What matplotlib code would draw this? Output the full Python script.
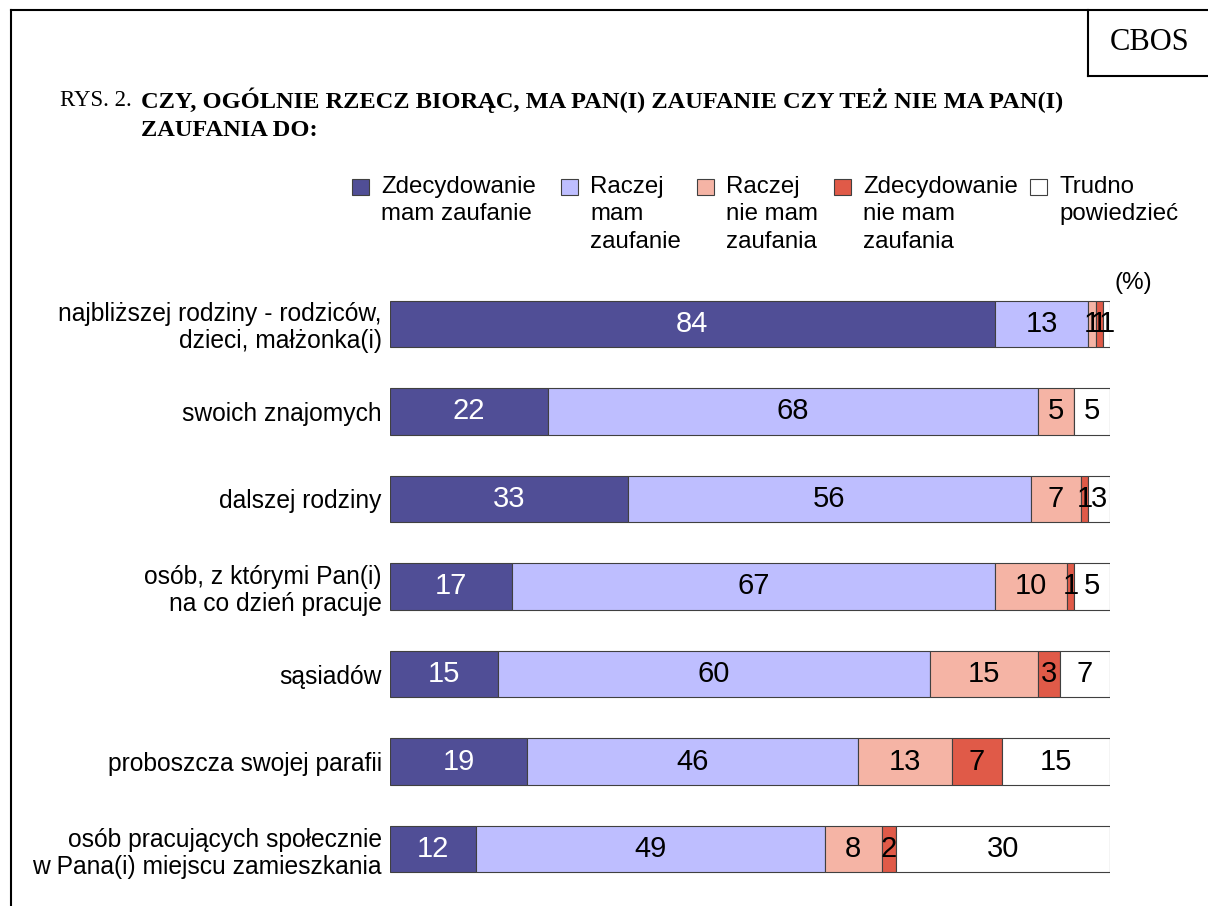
import matplotlib.pyplot as plt
from matplotlib.lines import Line2D
from matplotlib.patches import Rectangle
import numpy as np

W, H = 1208, 906

categories = ["najbliższej rodziny - rodziców,\ndzieci, małżonka(i)",
              "swoich znajomych",
              "dalszej rodziny",
              "osób, z którymi Pan(i)\nna co dzień pracuje",
              "sąsiadów",
              "proboszcza swojej parafii",
              "osób pracujących społecznie\nw Pana(i) miejscu zamieszkania"]

series = ["Zdecydowanie\nmam zaufanie", "Raczej\nmam\nzaufanie", "Raczej\nnie mam\nzaufania",
          "Zdecydowanie\nnie mam\nzaufania", "Trudno\npowiedzieć"]
colors = ["#504E96", "#BEBEFF", "#F5B4A5", "#E05A48", "#FFFFFF"]

zdec_mam = [84, 22, 33, 17, 15, 19, 12]
raczej_mam = [13, 68, 56, 67, 60, 46, 49]
raczej_nie = [1, 5, 7, 10, 15, 13, 8]
zdec_nie = [1, 0, 1, 1, 3, 7, 2]
trudno = [1, 5, 3, 5, 7, 15, 30]

values = np.array([zdec_mam, raczej_mam, raczej_nie, zdec_nie, trudno], dtype=float)

plt.rcParams['font.family'] = ['Liberation Sans', 'DejaVu Sans']

def fx(px):
    return px / W

def fy(py):
    return 1 - py / H

fig = plt.figure(figsize=(W / 100, H / 100), dpi=100)
ax = fig.add_axes([fx(390), fy(893), fx(1110) - fx(390), fy(280) - fy(893)])

y = np.arange(len(categories))
totals = values.sum(axis=0)
shares = values / totals * 100
left = np.zeros(len(categories))
for i in range(len(series)):
    ax.barh(y, shares[i], left=left, height=0.53, color=colors[i],
            edgecolor='#404040', linewidth=0.8)
    for j in range(len(categories)):
        if values[i, j] > 0:
            ax.text(left[j] + shares[i, j] / 2, y[j], "%d" % values[i, j],
                    ha='center', va='center', fontsize=21,
                    color='white' if i == 0 else 'black')
    left += shares[i]

ax.set_xlim(0, 100)
ax.set_ylim(len(categories) - 0.5, -0.5)
ax.set_yticks(y)
ax.set_yticklabels(categories, fontsize=17.7, linespacing=1.15)
ax.tick_params(axis='y', length=0, pad=6)
ax.set_xticks([])
for s in ax.spines.values():
    s.set_visible(False)

# legend
leg_marker_x = [352, 561, 697, 834, 1030]
for i, lab in enumerate(series):
    fig.patches.append(Rectangle((fx(leg_marker_x[i]), fy(195)), 17 / W, 16 / H,
                                 transform=fig.transFigure, facecolor=colors[i],
                                 edgecolor='#404040', linewidth=0.8))
    fig.text(fx(leg_marker_x[i] + 29), fy(176), lab, ha='left', va='top',
             fontsize=17.3, linespacing=1.32)

fig.text(fx(1114), fy(283), "(%)", ha='left', va='center', fontsize=17.5)

# title
fig.text(fx(60), fy(100), "RYS. 2.", ha='left', va='center', fontsize=16.5,
         family='Liberation Serif')
fig.text(fx(141), fy(100), "CZY, OGÓLNIE RZECZ BIORĄC, MA PAN(I) ZAUFANIE CZY TEŻ NIE MA PAN(I)",
         ha='left', va='center', fontsize=17.6, family='Liberation Serif', weight='bold')
fig.text(fx(141), fy(131), "ZAUFANIA DO:", ha='left', va='center', fontsize=17.6,
         family='Liberation Serif', weight='bold')

fig.text(fx(1150), fy(42), "CBOS", ha='center', va='center', fontsize=22,
         family='Liberation Serif')

# frame
lw = 1.5
fig.lines.append(Line2D([fx(11), fx(11)], [fy(10), fy(906)], color='black', lw=lw,
                        transform=fig.transFigure))
fig.lines.append(Line2D([fx(11), fx(1208)], [fy(10), fy(10)], color='black', lw=lw,
                        transform=fig.transFigure))
fig.lines.append(Line2D([fx(1088), fx(1088)], [fy(10), fy(76)], color='black', lw=lw,
                        transform=fig.transFigure))
fig.lines.append(Line2D([fx(1088), fx(1208)], [fy(76), fy(76)], color='black', lw=lw,
                        transform=fig.transFigure))

fig.savefig("out.png", dpi=100)
